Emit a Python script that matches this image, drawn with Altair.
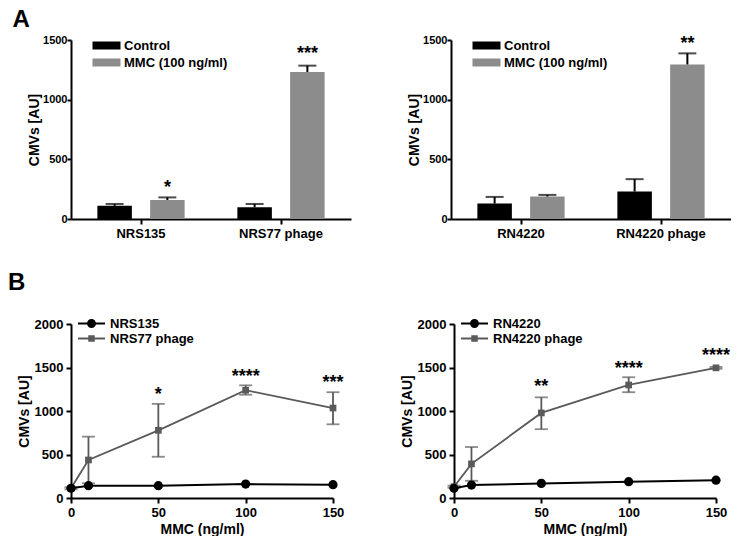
import altair as alt
import pandas as pd

FONT = "Liberation Sans"
BLACK = "#000000"
GRAY_BAR = "#8c8c8c"
GRAY_LINE = "#5a5a5a"

# ---------------- Panel A data ----------------
conditions = ["Control", "MMC (100 ng/ml)"]

a1_strains = ["NRS135", "NRS77 phage"]
a1_control = [110, 98]
a1_control_err = [126, 126]
a1_mmc = [159, 1232]
a1_mmc_err = [181, 1285]
a1_stars = ["*", "***"]
a1_star_y = [299, 1422]

a2_strains = ["RN4220", "RN4220 phage"]
a2_control = [129, 230]
a2_control_err = [185, 334]
a2_mmc = [188, 1295]
a2_mmc_err = [202, 1388]
a2_stars = ["", "**"]
a2_star_y = [0, 1508]

# ---------------- Panel B data ----------------
mmc_doses = [0, 10, 50, 100, 150]

b1_names = ["NRS135", "NRS77 phage"]
b1_black = [112, 142, 142, 160, 153]
b1_gray = [112, 437, 778, 1239, 1034]
b1_gray_lo = [100, 169, 474, 1187, 847]
b1_gray_hi = [124, 705, 1082, 1295, 1216]
b1_star_x = [50, 100, 150]
b1_stars = ["*", "****", "***"]
b1_star_y = [1243, 1444, 1380]

b2_names = ["RN4220", "RN4220 phage"]
b2_black = [112, 149, 168, 187, 205]
b2_gray = [130, 392, 978, 1299, 1496]
b2_gray_lo = [118, 198, 791, 1216, 1486]
b2_gray_hi = [142, 586, 1157, 1388, 1506]
b2_star_x = [50, 100, 150]
b2_stars = ["**", "****", "****"]
b2_star_y = [1336, 1537, 1690]

BAR_SYMBOL = "M-2.8,-0.8H2.8V0.8H-2.8Z"
CIRCLE_SYMBOL = ("M-2.7,-0.2H-0.7V0.2H-2.7Z M0.7,-0.2H2.7V0.2H0.7Z "
                 "M0.9,0A0.9,0.9 0 1,1 -0.9,0A0.9,0.9 0 1,1 0.9,0Z")
SQUARE_SYMBOL = ("M-2.7,-0.18H-0.6V0.18H-2.7Z M0.6,-0.18H2.7V0.18H0.6Z "
                 "M-0.65,-0.65H0.65V0.65H-0.65Z")

STAR_FONT = 18
STAR_DY = 5


def bar_panel(strains, ctrl, ctrl_err, mmc, mmc_err, stars, star_y):
    rows = []
    for i, s in enumerate(strains):
        rows.append(dict(strain=s, cond=conditions[0], value=ctrl[i], err=ctrl_err[i]))
        rows.append(dict(strain=s, cond=conditions[1], value=mmc[i], err=mmc_err[i]))
    df = pd.DataFrame(rows)
    sdf = pd.DataFrame(dict(strain=strains, cond=[conditions[1]] * len(strains),
                            label=stars, value=star_y))
    sdf = sdf[sdf["label"] != ""]

    x = alt.X("strain:N", sort=strains, title=None,
              scale=alt.Scale(paddingInner=0, paddingOuter=0),
              axis=alt.Axis(labelAngle=0, labelFontSize=13, tickSize=5, labelPadding=3))
    xo = alt.XOffset("cond:N", sort=conditions,
                     scale=alt.Scale(paddingInner=0.346, paddingOuter=0.5))
    yscale = alt.Scale(domain=[0, 1500], nice=False, padding=0)
    yaxis = alt.Axis(values=[0, 500, 1000, 1500], format="d", labelFontSize=11,
                     labelFlush=False, tickSize=4, labelPadding=0,
                     titleFontSize=14, titlePadding=1)
    color = alt.Color("cond:N", sort=conditions,
                      scale=alt.Scale(domain=conditions, range=[BLACK, GRAY_BAR]),
                      legend=alt.Legend(title=None, orient="none", legendX=29, legendY=-1,
                                        symbolType=BAR_SYMBOL, symbolSize=100,
                                        symbolStrokeWidth=0, labelFont=FONT,
                                        labelFontWeight="bold", labelFontSize=13,
                                        labelOffset=11, rowPadding=3, padding=0))
    bars = alt.Chart(df).mark_bar().encode(
        x=x, xOffset=xo,
        y=alt.Y("value:Q", scale=yscale, axis=yaxis, title="CMVs [AU]"),
        color=color)
    rule = alt.Chart(df).mark_rule(color=BLACK, strokeWidth=2).encode(
        x=x, xOffset=xo,
        y=alt.Y("value:Q", scale=yscale, title="CMVs [AU]"), y2="err:Q")
    cap = alt.Chart(df).mark_tick(color=BLACK, size=18, thickness=2).encode(
        x=x, xOffset=xo, y=alt.Y("err:Q", scale=yscale, title="CMVs [AU]"))
    txt = alt.Chart(sdf).mark_text(font=FONT, fontWeight="bold", fontSize=STAR_FONT,
                                   baseline="middle", dy=STAR_DY).encode(
        x=x, xOffset=xo, y=alt.Y("value:Q", scale=yscale, title="CMVs [AU]"),
        text="label:N")
    return alt.layer(bars, rule, cap, txt).properties(width=280, height=179)


def line_panel(names, black, gray, lo, hi, star_x, stars, star_y):
    dfb = pd.DataFrame(dict(mmc=mmc_doses, value=black))
    dfg = pd.DataFrame(dict(mmc=mmc_doses, value=gray, lo=lo, hi=hi))
    sdf = pd.DataFrame(dict(mmc=star_x, value=star_y, label=stars))
    ldf = pd.DataFrame(dict(series=names, mmc=[0, 0], value=[0, 0]))

    xscale = alt.Scale(domain=[0, 150], nice=False, padding=0)
    yscale = alt.Scale(domain=[0, 2000], nice=False, padding=0)
    X = alt.X("mmc:Q", scale=xscale, title="MMC (ng/ml)",
              axis=alt.Axis(values=[0, 50, 100, 150], format="d", labelFontSize=13,
                            labelFlush=False, tickSize=5, labelPadding=3,
                            titleFontSize=14, titlePadding=3))
    Y = alt.Y("value:Q", scale=yscale, title="CMVs [AU]",
              axis=alt.Axis(values=[0, 500, 1000, 1500, 2000], format="d",
                            labelFontSize=13, labelFlush=False, tickSize=5,
                            labelPadding=3, titleFontSize=14, titlePadding=3))

    err = alt.Chart(dfg).mark_rule(color=GRAY_LINE, strokeWidth=1.8).encode(
        x=X, y=alt.Y("lo:Q", scale=yscale, title="CMVs [AU]"), y2="hi:Q")
    cap_lo = alt.Chart(dfg).mark_tick(color=GRAY_LINE, size=13, thickness=1.8,
                                      orient="horizontal").encode(
        x=X, y=alt.Y("lo:Q", scale=yscale, title="CMVs [AU]"))
    cap_hi = alt.Chart(dfg).mark_tick(color=GRAY_LINE, size=13, thickness=1.8,
                                      orient="horizontal").encode(
        x=X, y=alt.Y("hi:Q", scale=yscale, title="CMVs [AU]"))
    gline = alt.Chart(dfg).mark_line(color=GRAY_LINE, strokeWidth=1.8).encode(x=X, y=Y)
    gpts = alt.Chart(dfg).mark_point(shape="square", filled=True, size=45,
                                     color=GRAY_LINE, opacity=1).encode(x=X, y=Y)
    bline = alt.Chart(dfb).mark_line(color=BLACK, strokeWidth=2).encode(x=X, y=Y)
    bpts = alt.Chart(dfb).mark_point(shape="circle", filled=True, size=85,
                                     color=BLACK, opacity=1).encode(x=X, y=Y)
    txt = alt.Chart(sdf).mark_text(font=FONT, fontWeight="bold", fontSize=STAR_FONT,
                                   baseline="middle", dy=STAR_DY).encode(
        x=X, y=Y, text="label:N")
    leg_kw = dict(title=None, orient="none", legendX=14, legendY=-7,
                  symbolSize=100, symbolStrokeWidth=0, labelFont=FONT,
                  labelFontWeight="bold", labelFontSize=13, labelOffset=12,
                  rowPadding=1, padding=0)
    legend_layer = alt.Chart(ldf).transform_filter("false").mark_point(
        filled=True, opacity=1).encode(
        x=X, y=Y,
        color=alt.Color("series:N", sort=names,
                        scale=alt.Scale(domain=names, range=[BLACK, GRAY_LINE]),
                        legend=alt.Legend(**leg_kw)),
        shape=alt.Shape("series:N", sort=names,
                        scale=alt.Scale(domain=names, range=[CIRCLE_SYMBOL, SQUARE_SYMBOL]),
                        legend=alt.Legend(**leg_kw)))
    return alt.layer(err, cap_lo, cap_hi, gline, gpts, bline, bpts, txt,
                     legend_layer).properties(width=262, height=174)


title_kw = dict(anchor="start", font=FONT, fontWeight="bold", fontSize=24,
                color="black")

row_a = alt.hconcat(
    bar_panel(a1_strains, a1_control, a1_control_err, a1_mmc, a1_mmc_err, a1_stars, a1_star_y),
    bar_panel(a2_strains, a2_control, a2_control_err, a2_mmc, a2_mmc_err, a2_stars, a2_star_y),
    spacing=56,
).resolve_scale(color="independent").properties(
    title=alt.TitleParams("A", offset=2, dx=-15, **title_kw))

row_b = alt.hconcat(
    line_panel(b1_names, b1_black, b1_gray, b1_gray_lo, b1_gray_hi, b1_star_x, b1_stars, b1_star_y),
    line_panel(b2_names, b2_black, b2_gray, b2_gray_lo, b2_gray_hi, b2_star_x, b2_stars, b2_star_y),
    spacing=56,
).resolve_scale(color="independent", shape="independent").properties(
    title=alt.TitleParams("B", offset=22, dx=-9, **title_kw))

chart = alt.vconcat(row_a, row_b, spacing=31).properties(
    padding={"left": 0, "top": 0, "right": 0, "bottom": 0}
).configure_axis(
    labelFont=FONT, labelFontWeight="bold", titleFont=FONT, titleFontWeight="bold",
    labelColor="black", titleColor="black", domainColor="black", tickColor="black",
    domainWidth=2, tickWidth=2, grid=False,
).configure_view(stroke=None)

chart.save("out.html", embed_options={"renderer": "svg", "actions": False})
